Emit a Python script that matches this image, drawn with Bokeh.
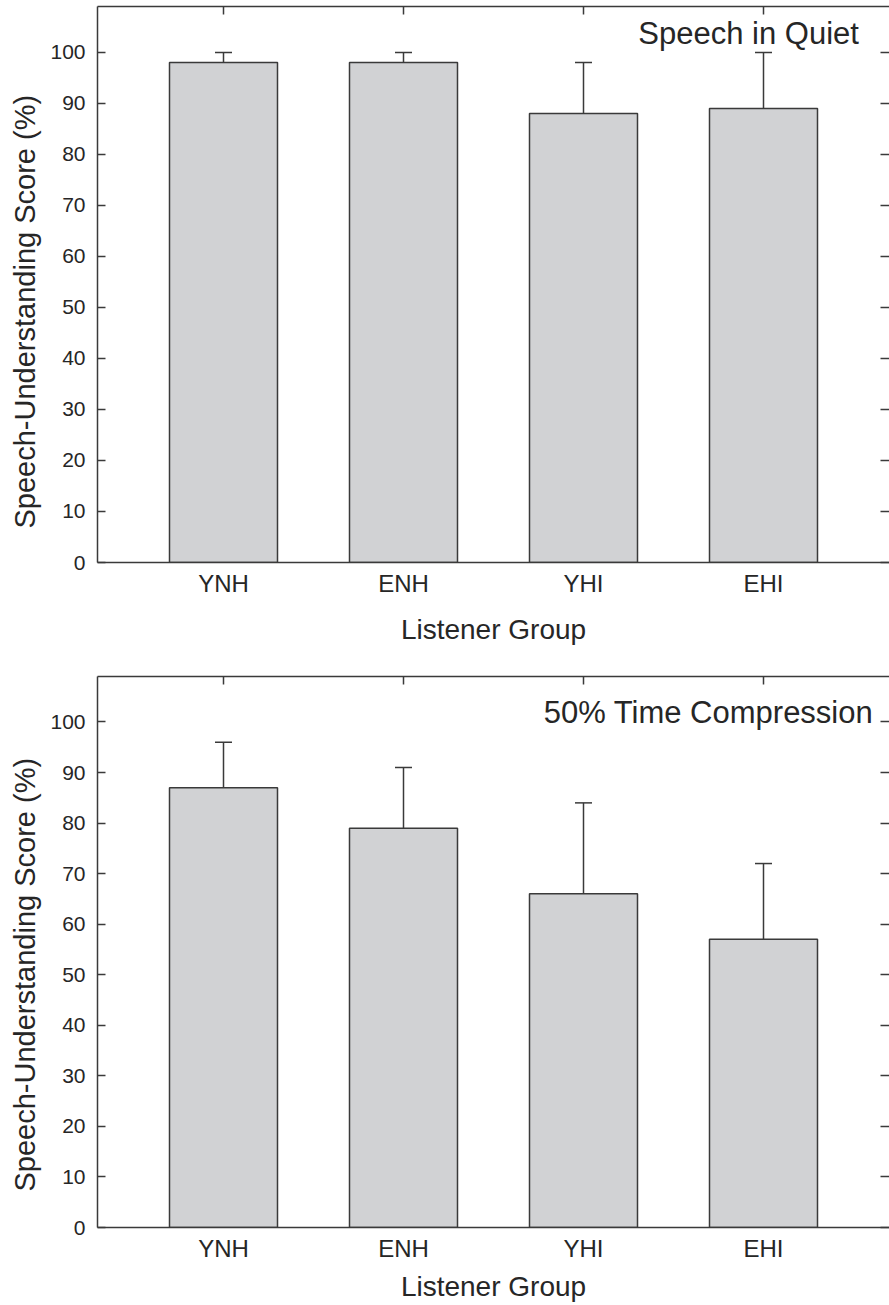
from bokeh.plotting import figure
from bokeh.layouts import column
from bokeh.models import Range1d, LinearAxis, FixedTicker, Label, Title
from bokeh.embed import file_html
from bokeh.resources import INLINE

# ---- data ----
groups = ["YNH", "ENH", "YHI", "EHI"]
quiet_mean = [98, 98, 88, 89]
quiet_upper = [100, 100, 98, 100]
comp_mean = [87, 79, 66, 57]
comp_upper = [96, 91, 84, 72]
y_ticks = [0, 10, 20, 30, 40, 50, 60, 70, 80, 90, 100]
panel_titles = ["Speech in Quiet", "50% Time Compression"]
x_title = "Listener Group"
y_title = "Speech-Understanding Score (%)"

FONT = "Liberation Sans"
TEXT = "#262626"
LINE = "#3a3a3a"
FILL = "#d1d2d4"


def make_panel(means, uppers, title, title_x, title_y, height, top_border,
               bottom_border, xlabel_standoff, ylab_offset):
    xs = list(range(1, len(groups) + 1))
    p = figure(width=889, height=height,
               x_range=Range1d(0.3, 4.7), y_range=Range1d(0, 109),
               output_backend="svg", toolbar_location=None,
               x_axis_location=None, y_axis_location=None,
               min_border_left=95, min_border_right=0,
               min_border_top=top_border, min_border_bottom=bottom_border)
    p.outline_line_color = None
    p.grid.grid_line_color = None
    p.background_fill_color = "white"
    p.border_fill_color = "white"

    common = dict(axis_line_color=LINE, axis_line_width=1.5,
                  major_tick_line_color=LINE, major_tick_line_width=1.5,
                  minor_tick_in=0, minor_tick_out=0,
                  major_label_text_font=FONT, major_label_text_color=TEXT)

    bottom = LinearAxis(ticker=FixedTicker(ticks=xs),
                        major_label_overrides={x: g for x, g in zip(xs, groups)},
                        major_tick_in=0, major_tick_out=0,
                        major_label_standoff=7,
                        major_label_text_font_size="24px",
                        axis_label=x_title, axis_label_standoff=xlabel_standoff,
                        axis_label_text_font=FONT, axis_label_text_font_size="28px",
                        axis_label_text_font_style="normal",
                        axis_label_text_color=TEXT, **common)
    p.add_layout(bottom, "below")

    left = LinearAxis(ticker=FixedTicker(ticks=y_ticks),
                      major_tick_in=8, major_tick_out=0,
                      major_label_standoff=12,
                      major_label_text_font_size="21px", **common)
    p.add_layout(left, "left")
    p.add_layout(Title(text=y_title, align="left", offset=ylab_offset, standoff=13,
                       text_font=FONT, text_font_size="29px",
                       text_font_style="normal", text_color=TEXT), "left")

    top = LinearAxis(ticker=FixedTicker(ticks=xs),
                     major_label_overrides={x: "" for x in xs},
                     major_tick_in=8, major_tick_out=0,
                     major_label_standoff=0,
                     major_label_text_font_size="0px", **common)
    p.add_layout(top, "above")

    rcommon = dict(common)
    rcommon["axis_line_color"] = None
    right = LinearAxis(ticker=FixedTicker(ticks=y_ticks),
                       major_label_overrides={t: "" for t in y_ticks},
                       major_tick_in=9, major_tick_out=0,
                       major_label_standoff=0,
                       major_label_text_font_size="0px", **rcommon)
    p.add_layout(right, "right")

    p.vbar(x=xs, top=means, bottom=0, width=0.6, fill_color=FILL,
           line_color=LINE, line_width=1.5)
    p.segment(x0=xs, y0=means, x1=xs, y1=uppers, line_color=LINE, line_width=1.5)
    p.scatter(x=xs, y=uppers, marker="dash", size=17, line_color=LINE, line_width=1.5)

    p.add_layout(Label(x=title_x, y=title_y, text=title, text_align="right",
                       text_baseline="alphabetic", text_font=FONT,
                       text_font_size="31px", text_color=TEXT))
    return p


p1 = make_panel(quiet_mean, quiet_upper, panel_titles[0], 4.53, 103.7,
                height=648, top_border=6, bottom_border=86, xlabel_standoff=14,
                ylab_offset=34)
p2 = make_panel(comp_mean, comp_upper, panel_titles[1], 4.61, 101.9,
                height=656, top_border=28, bottom_border=72, xlabel_standoff=6,
                ylab_offset=36)

layout = column(p1, p2)
open("out.html", "w").write(file_html(layout, INLINE))
